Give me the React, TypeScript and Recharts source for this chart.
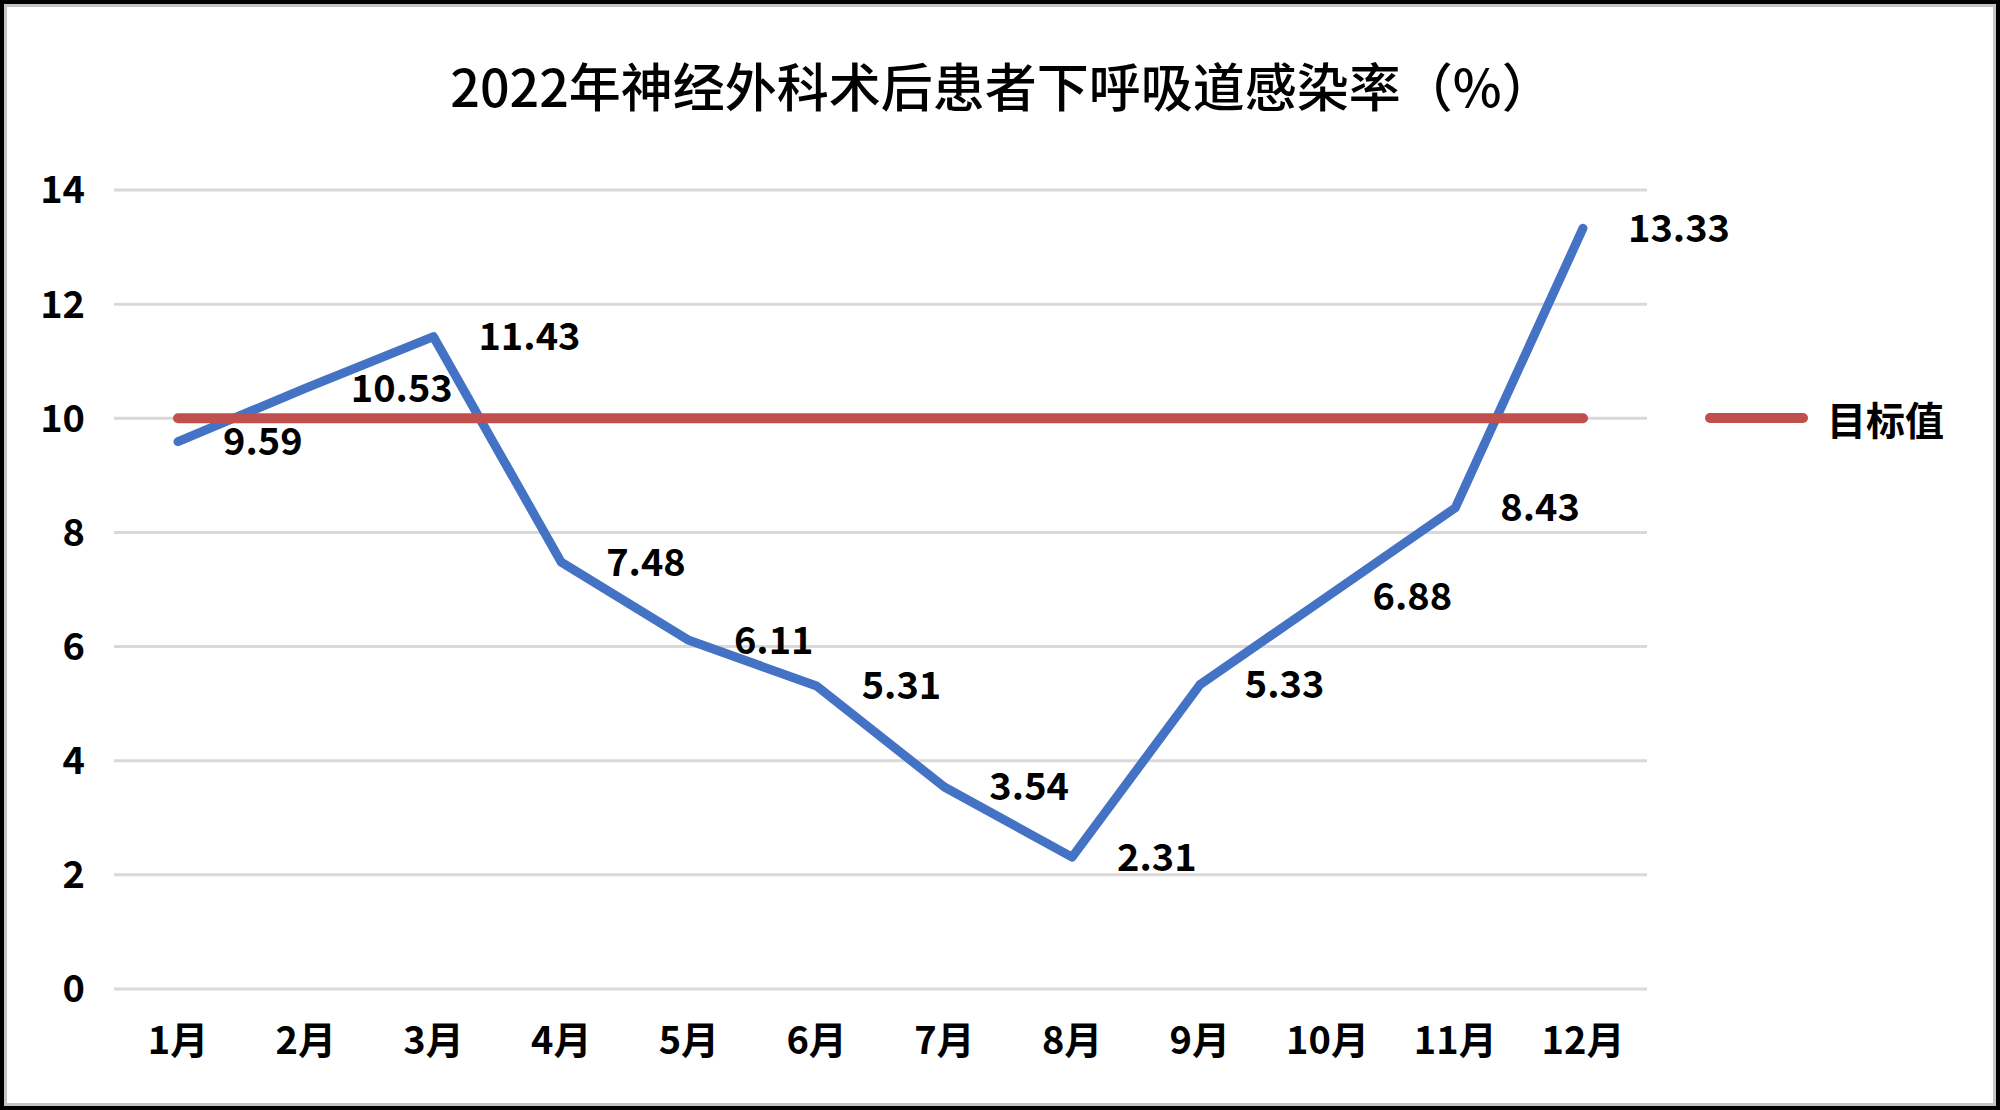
import React from "react"
import { LineChart, Line, XAxis, YAxis, CartesianGrid, Legend, LabelList } from "recharts"

const months = ["1月", "2月", "3月", "4月", "5月", "6月", "7月", "8月", "9月", "10月", "11月", "12月"]
const infectionRate = [9.59, 10.53, 11.43, 7.48, 6.11, 5.31, 3.54, 2.31, 5.33, 6.88, 8.43, 13.33]
const targetRate = [10, 10, 10, 10, 10, 10, 10, 10, 10, 10, 10, 10]
const yTicks = [0, 2, 4, 6, 8, 10, 12, 14]

const BLUE = "#4472C4"
const RED = "#C0504D"
const FONT = '"Noto Sans CJK SC", "Noto Sans", sans-serif'

const data = months.map((month, i) => ({
  month,
  rate: infectionRate[i],
  target: targetRate[i],
}))

const tickStyle = { fontSize: 38, fontWeight: 700, fill: "#000", fontFamily: FONT }

// only the target line has a legend entry
// eslint-disable-next-line @typescript-eslint/no-explicit-any
const TargetLegend = (props: any) => {
  const items = ((props.payload || []) as { value: string; color: string; type?: string; dataKey?: string }[])
    .filter((item) => item.type !== "none" && item.dataKey === "target")
  return (
    <div style={{ fontFamily: FONT }}>
      {items.map((item) => (
        <div key={item.value} style={{ display: "flex", alignItems: "center" }}>
          <div style={{ width: 103, height: 10, borderRadius: 5, background: item.color }} />
          <span style={{ marginLeft: 19, fontSize: 39, fontWeight: 700, color: "#000", lineHeight: "56px" }}>
            {item.value}
          </span>
        </div>
      ))}
    </div>
  )
}

export default function App() {
  return (
    <div style={{ position: "absolute", left: 0, top: 0, width: 2000, height: 1110, background: "#fff" }}>
      {/* frame */}
      <div
        style={{
          position: "absolute", left: 0, top: 0, width: 2000, height: 1110, boxSizing: "border-box",
          border: "4px solid #000",
        }}
      >
        <div style={{ width: "100%", height: "100%", boxSizing: "border-box", border: "3px solid #c4c4c4" }} />
      </div>

      {/* title */}
      <div
        style={{
          position: "absolute", left: 15, top: 55, width: 1974, textAlign: "center",
          fontFamily: FONT, fontSize: 52, fontWeight: 500, lineHeight: "60px", color: "#000",
        }}
      >
        2022年神经外科术后患者下呼吸道感染率（%）
      </div>

      <div style={{ position: "absolute", left: 0, top: 0 }}>
        <LineChart width={2000} height={1110} data={data} margin={{ top: 190, right: 353, bottom: 41, left: 0 }}>
          <CartesianGrid horizontal vertical={false} stroke="#d9d9d9" strokeWidth={3} />
          <XAxis
            dataKey="month"
            padding={{ left: 64, right: 64 }}
            axisLine={false}
            tickLine={false}
            tickSize={0}
            tickMargin={38}
            height={80}
            tick={tickStyle}
            interval={0}
          />
          <YAxis
            domain={[0, 14]}
            ticks={yTicks}
            axisLine={false}
            tickLine={false}
            tickSize={0}
            tickMargin={29}
            width={114}
            tick={tickStyle}
          />
          <Legend
            layout="horizontal"
            align="center"
            verticalAlign="middle"
            content={TargetLegend}
            wrapperStyle={{ position: "absolute", left: 1705, top: 390, width: 280 }}
          />
          <Line
            dataKey="rate"
            name="感染率"
            legendType="none"
            stroke={BLUE}
            strokeWidth={9}
            strokeLinecap="round"
            strokeLinejoin="round"
            dot={false}
            activeDot={false}
            isAnimationActive={false}
          >
            <LabelList
              dataKey="rate"
              position="right"
              offset={45}
              fill="#000"
              fontSize={38}
              fontWeight={700}
              fontFamily={FONT}
            />
          </Line>
          <Line
            dataKey="target"
            name="目标值"
            stroke={RED}
            strokeWidth={10}
            strokeLinecap="round"
            dot={false}
            activeDot={false}
            isAnimationActive={false}
          />
        </LineChart>
      </div>
    </div>
  )
}
